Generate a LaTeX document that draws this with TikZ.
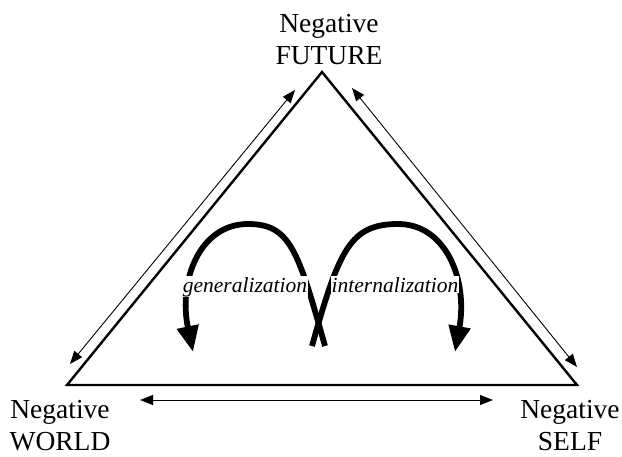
\documentclass[tikz,border=0pt]{standalone}
\usepackage{fontspec}
\setmainfont{Liberation Serif}
\usetikzlibrary{arrows.meta}

\begin{document}
\begin{tikzpicture}[x=1pt,y=-1pt]
        \tikzstyle{corner} = [align=center, inner sep=0pt, font=\fontsize{27.5}{31.5}\selectfont]
        \tikzstyle{loopname} = [inner sep=0.6pt, fill=white, font=\fontsize{21.5}{24}\selectfont\itshape]
        \tikzstyle{link} = [line width=0.9pt, {Triangle[length=13pt,width=10pt]}-{Triangle[length=13pt,width=10pt]}]
        \tikzstyle{loop} = [line width=5.8pt, -{Triangle[length=26pt,width=21pt]}]
        \useasboundingbox (0,0) rectangle (622,456);
        % triangle
        \coordinate (top) at (322,72);
        \coordinate (left) at (67,385);
        \coordinate (right) at (577,385);
        \draw [line width=2.4pt, line join=miter] (top) -- (right) -- (left) -- cycle;
        % labels
        \node (future) [corner, anchor=base] at (329,64) {Negative\\FUTURE};
        \node (world) [corner, anchor=base] at (60,450) {Negative\\WORLD};
        \node (self) [corner, anchor=base] at (570,450) {Negative\\SELF};
        % arrows along the sides
        \coordinate (wf1) at (70,364);
        \coordinate (wf2) at (295,90);
        \coordinate (fs1) at (352,88);
        \coordinate (fs2) at (577,367);
        \coordinate (ws1) at (140,400);
        \coordinate (ws2) at (493,400);
        \draw [link] (wf1) -- (wf2);
        \draw [link] (fs1) -- (fs2);
        \draw [link] (ws1) -- (ws2);
        % the two loops
        \draw [loop] (325,346) .. controls (298,250) and (290,224) .. (248,224)
            .. controls (200,224) and (178,280) .. (193,352);
        \draw [loop] (312,346) .. controls (339,250) and (350,224) .. (398,224)
            .. controls (446,224) and (468,280) .. (455,352);
        \node (gen) [loopname, anchor=base] at (245,292) {generalization};
        \node (int) [loopname, anchor=base] at (395,292) {internalization};
    \end{tikzpicture}
\end{document}
